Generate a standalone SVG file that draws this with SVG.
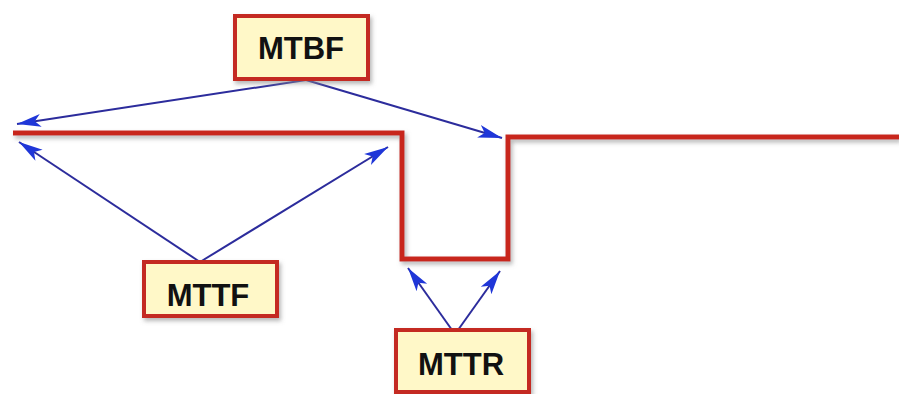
<svg xmlns="http://www.w3.org/2000/svg" width="899" height="394" viewBox="0 0 899 394">
<style>
.box{fill:#fff8c8;stroke:#c42a22;stroke-width:4}
.lbl{font-family:"Liberation Sans",Arial,sans-serif;font-weight:bold;font-size:31px;fill:#111;text-anchor:middle}
.arr{stroke:#2c2c9c;stroke-width:2;fill:none;marker-end:url(#ah)}
.sig{stroke:#c8261e;stroke-width:5;fill:none;stroke-linejoin:miter}
</style>
<defs>
<marker id="ah" markerUnits="userSpaceOnUse" markerWidth="26" markerHeight="16" refX="24" refY="8" orient="auto">
<path d="M0,1.5 L24,8 L0,14.5 L6,8 Z" fill="#1f36d8"/>
</marker>
<filter id="sh" x="-10%" y="-10%" width="130%" height="140%">
<feDropShadow dx="2" dy="3" stdDeviation="2" flood-color="#888" flood-opacity="0.6"/>
</filter>
</defs>
<rect width="899" height="394" fill="#fff"/>
<g id="signal">
<path class="sig" filter="url(#sh)" d="M13,133 H402 V259 H508 V137 H899"/>
</g>
<g id="connectors">
<line class="arr" x1="306" y1="80" x2="17" y2="124"/>
<line class="arr" x1="306" y1="80" x2="502" y2="138"/>
<line class="arr" x1="200" y1="262" x2="19" y2="142"/>
<line class="arr" x1="200" y1="262" x2="388" y2="147"/>
<line class="arr" x1="452" y1="330" x2="408" y2="268"/>
<line class="arr" x1="458" y1="330" x2="500" y2="271"/>
</g>
<g id="mtbf">
<rect class="box" filter="url(#sh)" x="235" y="16" width="133" height="63"/>
<text class="lbl" x="301" y="59">MTBF</text>
</g>
<g id="mttf">
<rect class="box" filter="url(#sh)" x="144" y="262" width="133" height="54"/>
<text class="lbl" x="208" y="306">MTTF</text>
</g>
<g id="mttr">
<rect class="box" filter="url(#sh)" x="396" y="330" width="133" height="62"/>
<text class="lbl" x="461" y="375">MTTR</text>
</g>
</svg>
